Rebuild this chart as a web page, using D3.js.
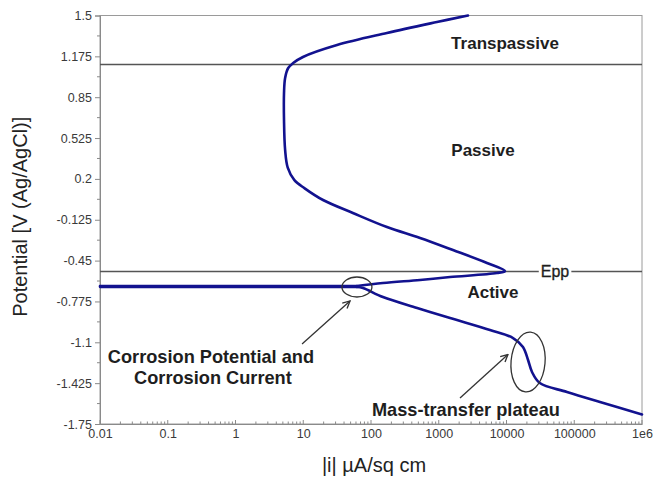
<!DOCTYPE html>
<html><head><meta charset="utf-8">
<script src="https://cdn.jsdelivr.net/npm/d3@7/dist/d3.min.js"></script>
<style>body{margin:0;background:#fff}svg{display:block}</style>
</head><body>
<svg id="c" width="655" height="478"></svg>
<script>
// ---- data ----
const currentDensity = [1e6, 240000, 78000, 31000, 23800, 20800, 17500, 12500, 5700, 1470, 480, 150, 76, 62, 0.01,
  0.01, 62, 150, 530, 1470, 7200, 9500, 5150, 1620, 530, 172, 54, 19.6, 10.5, 7.4, 5.9, 5.4, 5.2, 5.2, 5.4, 6.0, 7.1, 9.9, 31.5, 172, 940, 2700];
const potential = [-1.674, -1.575, -1.495, -1.424, -1.336, -1.241, -1.137, -1.066, -1.002, -0.907, -0.827, -0.740, -0.668, -0.660, -0.659,
  -0.652, -0.652, -0.628, -0.604, -0.581, -0.549, -0.533, -0.469, -0.366, -0.270, -0.183, -0.071, 0.032, 0.125, 0.19, 0.29, 0.43, 0.669, 0.883, 1.003, 1.082, 1.122, 1.170, 1.265, 1.361, 1.448, 1.5];
const yTicks = [1.5, 1.175, 0.85, 0.525, 0.2, -0.125, -0.45, -0.775, -1.1, -1.425, -1.75];
const yTickLabels = ["1.5", "1.175", "0.85", "0.525", "0.2", "-0.125", "-0.45", "-0.775", "-1.1", "-1.425", "-1.75"];
const xTicks = [0.01, 0.1, 1, 10, 100, 1000, 10000, 100000, 1e6];
const xTickLabels = ["0.01", "0.1", "1", "10", "100", "1000", "10000", "100000", "1e6"];
const regionLines = [1.11, -0.537];   // transpassive boundary, Epp
const regionLabels = [
  {text: "Transpassive", i: 9500, E: 1.281},
  {text: "Passive", i: 4500, E: 0.43},
  {text: "Active", i: 6320, E: -0.70}
];
const eppLabel = {text: "Epp", i: 52000, E: -0.537};
const noteCorrosion = {lines: ["Corrosion Potential and", "Corrosion Current"], i: 0.434, E: -1.213};
const noteMass = {text: "Mass-transfer plateau", i: 2520, E: -1.639};
const ellipses = [{i: 62, E: -0.66, rx: 15, ry: 10, rot: 0}, {i: 20800, E: -1.257, rx: 17, ry: 30, rot: 5}];
const arrows = [{i0: 9.6, E0: -1.114, i1: 49, E1: -0.771}, {i0: 2060, E0: -1.543, i1: 10500, E1: -1.197}];

// ---- chart ----
const svg = d3.select("#c");
const FONT = "'Liberation Sans', Arial, Helvetica, sans-serif";
const L = 100, R = 642, T = 15.5, B = 424;
const x = d3.scaleLog().domain([0.01, 1e6]).range([L, R]);
const y = d3.scaleLinear().domain([-1.75, 1.5]).range([B, T]);

svg.append("rect").attr("width", 655).attr("height", 478).attr("fill", "#fff");

// frame
svg.append("rect").attr("x", L).attr("y", T).attr("width", R - L).attr("height", B - T)
  .attr("fill", "none").attr("stroke", "#9a9a9a").attr("stroke-width", 1);

// y axis
const yAxis = d3.axisLeft(y).tickValues(yTicks).tickSize(5).tickPadding(3)
  .tickFormat((d, k) => yTickLabels[k]);
const gy = svg.append("g").attr("transform", `translate(${L},0)`).call(yAxis);
gy.select(".domain").attr("stroke", "#8a8a8a");
gy.selectAll(".tick line").attr("stroke", "#8a8a8a");
gy.selectAll(".tick text").attr("font-family", FONT).attr("font-size", 12.5).attr("fill", "#3a3a3a");
const yMinor = yTicks.slice(0, -1).map((v, k) => (v + yTicks[k + 1]) / 2);
svg.append("g").selectAll("line").data(yMinor).join("line")
  .attr("x1", L - 3).attr("x2", L).attr("y1", d => y(d)).attr("y2", d => y(d)).attr("stroke", "#8a8a8a");

// x axis
const xAxis = d3.axisBottom(x).tickValues(xTicks).tickSize(0).tickPadding(5)
  .tickFormat((d, k) => xTickLabels[k]);
const gx = svg.append("g").attr("transform", `translate(0,${B})`).call(xAxis);
gx.select(".domain").attr("stroke", "#8a8a8a");
gx.selectAll(".tick text").attr("font-family", FONT).attr("font-size", 12.5).attr("fill", "#3a3a3a");
const xMinor = [];
for (let e = -2; e < 6; e++) for (let m = 2; m <= 9; m++) xMinor.push(m * Math.pow(10, e));
svg.append("g").selectAll("line").data(xMinor).join("line")
  .attr("x1", d => x(d)).attr("x2", d => x(d)).attr("y1", B).attr("y2", B - 2.5).attr("stroke", "#8a8a8a");
svg.append("g").selectAll("line").data(xTicks).join("line")
  .attr("x1", d => x(d)).attr("x2", d => x(d)).attr("y1", B).attr("y2", B - 4).attr("stroke", "#8a8a8a");

// axis titles
svg.append("text").attr("x", (L + R) / 2 + 3).attr("y", 472).attr("text-anchor", "middle")
  .attr("font-family", FONT).attr("font-size", 20).attr("fill", "#222").text("|i| µA/sq cm");
svg.append("text").attr("transform", `translate(27,${(T + B) / 2 - 3}) rotate(-90)`).attr("text-anchor", "middle")
  .attr("font-family", FONT).attr("font-size", 20).attr("fill", "#222").text("Potential [V (Ag/AgCl)]");

// region lines
svg.append("g").selectAll("line").data(regionLines).join("line")
  .attr("x1", L).attr("x2", R).attr("y1", d => y(d)).attr("y2", d => y(d))
  .attr("stroke", "#555").attr("stroke-width", 1.4);

// Epp label with white background
const eg = svg.append("g");
const et = eg.append("text").attr("x", x(eppLabel.i)).attr("y", y(eppLabel.E)).attr("dy", "0.35em")
  .attr("text-anchor", "middle").attr("font-family", FONT).attr("font-size", 16).attr("fill", "#1e1e1e")
  .attr("stroke", "#1e1e1e").attr("stroke-width", 0.3)
  .text(eppLabel.text);
const bb = et.node().getBBox();
eg.insert("rect", "text").attr("x", bb.x - 2).attr("y", bb.y).attr("width", bb.width + 4).attr("height", bb.height).attr("fill", "#fff");

// curve: cathodic branch, near-zero crossing at Ecorr, anodic branch
const pts = currentDensity.map((c, k) => [c, potential[k]]);
const smooth = d3.line().x(d => x(d[0])).y(d => y(d[1])).curve(d3.curveCatmullRom.alpha(0.5));
const straight = d3.line().x(d => x(d[0])).y(d => y(d[1]));
const segs = [[smooth, pts.slice(0, 14)], [straight, pts.slice(13, 17)], [smooth, pts.slice(16)]];
svg.append("g").selectAll("path").data(segs).join("path").attr("d", d => d[0](d[1]))
  .attr("fill", "none").attr("stroke", "#12128f").attr("stroke-width", 2.6)
  .attr("stroke-linejoin", "round").attr("stroke-linecap", "round");

// region labels
svg.append("g").selectAll("text").data(regionLabels).join("text")
  .attr("x", d => x(d.i)).attr("y", d => y(d.E)).attr("dy", "0.35em").attr("text-anchor", "middle")
  .attr("font-family", FONT).attr("font-size", 17).attr("font-weight", "bold").attr("fill", "#1e1e1e")
  .text(d => d.text);

// notes
const nc = svg.append("text").attr("text-anchor", "middle").attr("font-family", FONT)
  .attr("font-size", 18.2).attr("font-weight", "bold").attr("fill", "#1e1e1e");
noteCorrosion.lines.forEach((t, k) => nc.append("tspan").attr("x", x(noteCorrosion.i) + (k ? 2 : 0))
  .attr("y", y(noteCorrosion.E) + k * 21.5).attr("dy", "0.35em").text(t));
svg.append("text").attr("x", x(noteMass.i)).attr("y", y(noteMass.E)).attr("dy", "0.35em").attr("text-anchor", "middle")
  .attr("font-family", FONT).attr("font-size", 18.2).attr("font-weight", "bold").attr("fill", "#1e1e1e").text(noteMass.text);

// ellipses
svg.append("g").selectAll("ellipse").data(ellipses).join("ellipse")
  .attr("transform", d => `translate(${x(d.i)},${y(d.E)}) rotate(${d.rot})`)
  .attr("rx", d => d.rx).attr("ry", d => d.ry)
  .attr("fill", "none").attr("stroke", "#333").attr("stroke-width", 1.3);

// arrows
svg.append("defs").append("marker").attr("id", "ah").attr("viewBox", "0 0 10 10").attr("refX", 9).attr("refY", 5)
  .attr("markerWidth", 9).attr("markerHeight", 9).attr("markerUnits", "userSpaceOnUse").attr("orient", "auto")
  .append("path").attr("d", "M1,1 L9,5 L1,9").attr("fill", "none").attr("stroke", "#333").attr("stroke-width", 1.5);
svg.append("g").selectAll("line").data(arrows).join("line")
  .attr("x1", d => x(d.i0)).attr("y1", d => y(d.E0)).attr("x2", d => x(d.i1)).attr("y2", d => y(d.E1))
  .attr("stroke", "#333").attr("stroke-width", 1.3).attr("marker-end", "url(#ah)");
</script>
</body></html>
